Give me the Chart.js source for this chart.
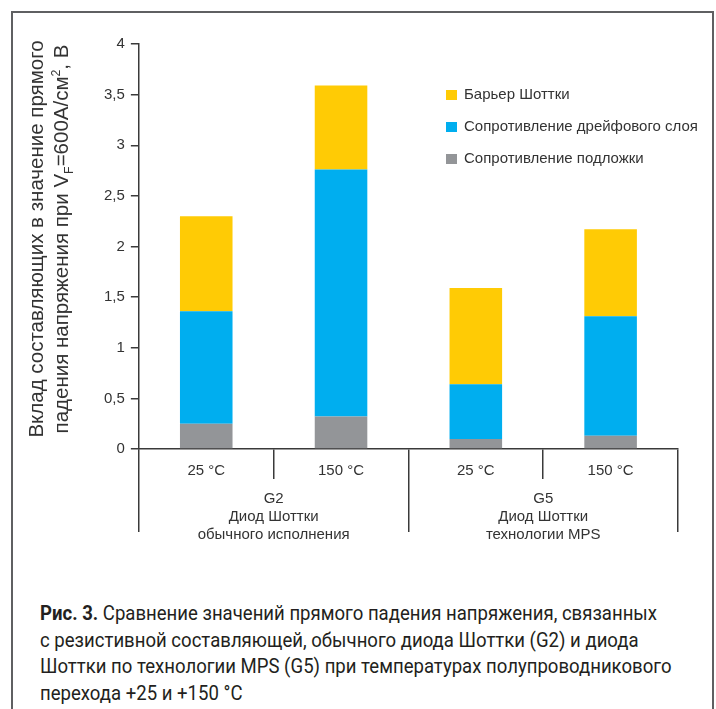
<!DOCTYPE html>
<html>
<head>
<meta charset="utf-8">
<script src="https://cdn.jsdelivr.net/npm/chart.js@4"></script>
<style>
  body { margin: 0; background: #fff; width: 716px; height: 709px; overflow: hidden; position: relative; }
  #frame { position: absolute; left: 11px; top: 11px; width: 703px; height: 760px; border: 2px solid #5f6062; box-sizing: border-box; }
  #chartBox { position: absolute; left: 0; top: 0; }
  #ytitle {
    position: absolute; left: -161px; top: 213px; width: 420px; height: 52px;
    transform: rotate(-90deg); text-align: center;
    font: 20.5px "Liberation Sans", Arial, sans-serif; line-height: 25px; color: #333;
  }
  #ytitle sub, #ytitle sup { font-size: 0.6em; line-height: 0; }
  #caption {
    position: absolute; left: 40px; top: 600px; transform-origin: 0 0;
    font-family: Roboto, "Noto Sans", sans-serif;
    font-size: 21px; line-height: 26.5px; color: #231f20; white-space: nowrap;
  }
  #caption b { font-weight: bold; }
</style>
</head>
<body>
<div id="frame"></div>
<div id="chartBox"><canvas id="chart1" width="716" height="560"></canvas></div>
<div id="ytitle">Вклад составляющих в значение прямого<br>падения напряжения при V<sub>F</sub>=600A/см<sup>2</sup>, В</div>
<div id="caption"><span id="capLine1"><b>Рис. 3.</b> Сравнение значений прямого падения напряжения, связанных</span><br>с резистивной составляющей, обычного диода Шоттки (G2) и диода<br>Шоттки по технологии MPS (G5) при температурах полупроводникового<br>перехода +25 и +150 °C</div>
<script>
const categories = ['25 °C', '150 °C', '25 °C', '150 °C'];
const groups = [['G2', 'Диод Шоттки', 'обычного исполнения'], ['G5', 'Диод Шоттки', 'технологии MPS']];
const substrate = [0.25, 0.32, 0.10, 0.13];
const drift = [1.11, 2.44, 0.54, 1.18];
const barrier = [0.94, 0.83, 0.95, 0.86];

// condensed look for the caption: squeeze the first line to the original width
const cap = document.getElementById('caption');
const w1 = document.getElementById('capLine1').getBoundingClientRect().width;
cap.style.transform = 'scaleX(' + (617 / w1) + ')';

Chart.defaults.font.family = '"Liberation Sans", Arial, sans-serif';
Chart.defaults.font.size = 15;
Chart.defaults.color = '#333';

// legend drawn at the right, top item = top of stack
const sideLegend = {
    id: 'sideLegend',
    afterDraw(chart) {
        const ctx = chart.ctx;
        const items = chart.data.datasets.slice().reverse();
        ctx.save();
        ctx.font = '15px "Liberation Sans", Arial, sans-serif';
        ctx.textBaseline = 'middle';
        items.forEach((ds, i) => {
            const y = 95 + i * 32;
            ctx.fillStyle = ds.backgroundColor;
            ctx.fillRect(446, y - 5, 11, 10);
            ctx.fillStyle = '#333';
            ctx.fillText(ds.label, 464, y);
        });
        ctx.restore();
    }
};

const axisColor = '#3a3a3a';

const config = {
    type: 'bar',
    data: {
        labels: categories,
        datasets: [{
            label: 'Сопротивление подложки',
            backgroundColor: '#939598',
            data: substrate
        }, {
            label: 'Сопротивление дрейфового слоя',
            backgroundColor: '#00AEEF',
            data: drift
        }, {
            label: 'Барьер Шоттки',
            backgroundColor: '#FFCB05',
            data: barrier
        }]
    },
    plugins: [sideLegend],
    options: {
        responsive: false,
        animation: false,
        layout: {
            padding: { left: 98, top: 44, right: 38, bottom: 16 }
        },
        datasets: {
            bar: { categoryPercentage: 1, barPercentage: 0.39, borderWidth: 0 }
        },
        plugins: {
            legend: { display: false },
            tooltip: { enabled: false }
        },
        scales: {
            y: {
                stacked: true,
                min: 0,
                max: 4,
                ticks: {
                    stepSize: 0.5,
                    padding: 6,
                    callback: v => String(v).replace('.', ',')
                },
                grid: { drawOnChartArea: false, tickLength: 8, color: axisColor, lineWidth: 1.5 },
                border: { color: axisColor, width: 1.5 }
            },
            x: {
                stacked: true,
                ticks: { padding: -17 },
                grid: { drawOnChartArea: false, offset: true, tickLength: 30, color: axisColor, lineWidth: 1.5 },
                border: { color: axisColor, width: 1.5 },
                afterFit: s => { s.height = 30; }
            },
            x2: {
                type: 'category',
                position: 'bottom',
                labels: groups,
                offset: true,
                ticks: { padding: -42, lineHeight: 1.15 },
                grid: { drawOnChartArea: false, offset: true, tickLength: 53, color: axisColor, lineWidth: 1.5 },
                border: { display: false },
                afterFit: s => { s.height = 65; }
            }
        }
    }
};

const ctx1 = document.getElementById('chart1').getContext('2d');
const chart1 = new Chart(ctx1, config);
</script>
</body>
</html>
